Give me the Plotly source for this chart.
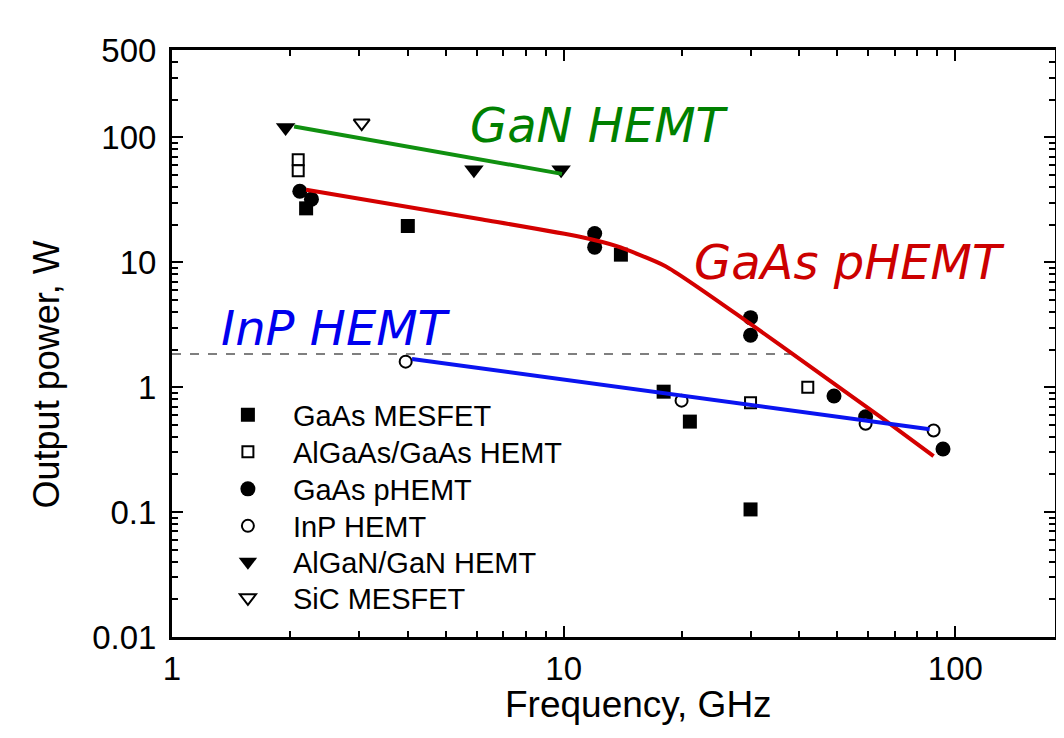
import math
import plotly.graph_objects as go

# ---------------- data ----------------
mesfet_f = [2.2, 4.0, 14.0, 18.0, 21.0, 30.0]
mesfet_p = [27.0, 19.5, 11.5, 0.92, 0.53, 0.105]

algaas_f = [2.1, 2.1, 30.0, 42.0]
algaas_p = [66.0, 54.0, 0.75, 1.0]

phemt_f = [2.12, 2.27, 12.0, 12.0, 30.0, 30.0, 49.0, 59.0, 93.0]
phemt_p = [37.0, 32.0, 17.0, 13.2, 3.6, 2.6, 0.85, 0.58, 0.32]

inp_f = [3.95, 20.0, 59.0, 88.0]
inp_p = [1.6, 0.78, 0.51, 0.45]

gan_f = [1.95, 5.9, 9.85]
gan_p = [120.0, 55.0, 55.0]

sic_f = [3.05]
sic_p = [130.0]

# trend lines
gan_line_f = [2.05, 9.9]
gan_line_p = [122.0, 51.0]

phemt_line_f = [2.2, 6.2, 11.0, 13.6, 18.2, 29.6, 43.6, 64.5, 88.0]
phemt_line_p = [38.0, 22.0, 16.0, 13.5, 9.3, 3.3, 1.39, 0.575, 0.28]

inp_line_f = [4.1, 86.0]
inp_line_p = [1.68, 0.46]

ref_line_f = [1.0, 38.0]
ref_line_p = [1.84, 1.84]

x_ticks = [1, 10, 100]
x_ticktext = ["1", "10", "100"]
y_ticks = [0.01, 0.1, 1, 10, 100, 500]
y_ticktext = ["0.01", "0.1", "1", "10", "100", "500"]

# ---------------- geometry ----------------
FONT = "Liberation Sans, Arial, sans-serif"
# page body has an 8px margin: work in screen pixels, convert to figure pixels
OFF = 8
W, H = 1064 - OFF, 738 - OFF
L, R, T, B = 172 - OFF, 1058 - OFF, 50 - OFF, 637 - OFF
dec = 393.0

def px_to_paper(sx, sy):
    fx, fy = sx - OFF, sy - OFF
    return (fx - L) / (R - L), (B - fy) / (B - T)

fig = go.Figure()

legend_rows = [415, 452, 489, 526, 562, 598]
legend_layouts = {}

def pts(idx, name, f, p, symbol, size, fill):
    key = "legend" if idx == 0 else f"legend{idx + 1}"
    fig.add_trace(go.Scatter(
        x=f, y=p, mode="markers", name=name, legend=key,
        marker=dict(symbol=symbol, size=size, color=fill,
                    line=dict(color="black", width=2 if fill == "white" else 0)),
    ))
    lx, ly = px_to_paper(203, legend_rows[idx])
    legend_layouts[key] = dict(
        x=lx, y=ly, xanchor="left", yanchor="middle",
        bgcolor="rgba(0,0,0,0)", borderwidth=0,
        font=dict(family=FONT, size=29, color="black"),
        itemwidth=80, visible=True,
    )

pts(0, "GaAs MESFET", mesfet_f, mesfet_p, "square", 14, "black")
pts(1, "AlGaAs/GaAs HEMT", algaas_f, algaas_p, "square", 11, "white")
pts(2, "GaAs pHEMT", phemt_f, phemt_p, "circle", 15, "black")
pts(3, "InP HEMT", inp_f, inp_p, "circle", 12, "white")
pts(4, "AlGaN/GaN HEMT", gan_f, gan_p, "triangle-down", 17, "black")
pts(5, "SiC MESFET", sic_f, sic_p, "triangle-down", 14, "white")

fig.add_trace(go.Scatter(x=ref_line_f, y=ref_line_p, mode="lines", showlegend=False,
                         line=dict(color="#555555", width=1.5, dash="dash")))
fig.add_trace(go.Scatter(x=gan_line_f, y=gan_line_p, mode="lines", showlegend=False,
                         line=dict(color="#109010", width=4)))
fig.add_trace(go.Scatter(x=phemt_line_f, y=phemt_line_p, mode="lines", showlegend=False,
                         line=dict(color="#d40000", width=4, shape="spline", smoothing=0.6)))
fig.add_trace(go.Scatter(x=inp_line_f, y=inp_line_p, mode="lines", showlegend=False,
                         line=dict(color="#0a14f0", width=4)))

x_minor = [m * 10 ** e for e in range(0, 3) for m in range(2, 10) if m * 10 ** e < 180]
y_minor = [m * 10.0 ** e for e in range(-2, 3) for m in range(2, 10) if m * 10.0 ** e < 500]

axis_common = dict(
    type="log", showline=True, linecolor="black", linewidth=3, mirror="allticks",
    ticks="inside", ticklen=11, tickwidth=2, tickcolor="black",
    showgrid=False, zeroline=False,
    tickfont=dict(family=FONT, size=33, color="black"),
)

fig.update_xaxes(**axis_common, range=[0, (R - L) / dec],
                 tickvals=x_ticks, ticktext=x_ticktext,
                 minor=dict(ticks="inside", ticklen=6, tickwidth=2, tickcolor="black",
                            tickvals=x_minor, showgrid=False))
fig.update_yaxes(**axis_common, range=[-2, math.log10(500)],
                 tickvals=y_ticks, ticktext=y_ticktext, ticklabelstandoff=6,
                 minor=dict(ticks="inside", ticklen=6, tickwidth=2, tickcolor="black",
                            tickvals=y_minor, showgrid=False))

ann = []
for text, color, cx, cy in [("GaN HEMT", "#008000", 601, 125),
                            ("GaAs pHEMT", "#cc0000", 852, 262),
                            ("InP HEMT", "#0000ee", 337, 328)]:
    xp, yp = px_to_paper(cx, cy)
    ann.append(dict(text=f"<i>{text}</i>", x=xp, y=yp, xref="paper", yref="paper",
                    xanchor="center", yanchor="middle", showarrow=False,
                    font=dict(family="DejaVu Sans", size=48, color=color)))

xp, yp = px_to_paper(640, 704)
ann.append(dict(text="Frequency, GHz", x=xp, y=yp, xref="paper", yref="paper",
                xanchor="center", yanchor="middle", showarrow=False,
                font=dict(family=FONT, size=37, color="black")))
xp, yp = px_to_paper(46, 374)
ann.append(dict(text="Output power, W", x=xp, y=yp, xref="paper", yref="paper",
                xanchor="center", yanchor="middle", showarrow=False, textangle=-90,
                font=dict(family=FONT, size=36, color="black")))

fig.update_layout(
    width=W, height=H,
    margin=dict(l=L, r=W - R, t=T, b=H - B, pad=0),
    paper_bgcolor="white", plot_bgcolor="white",
    annotations=ann,
    showlegend=True,
    **legend_layouts,
)

fig.write_html("out.html")
